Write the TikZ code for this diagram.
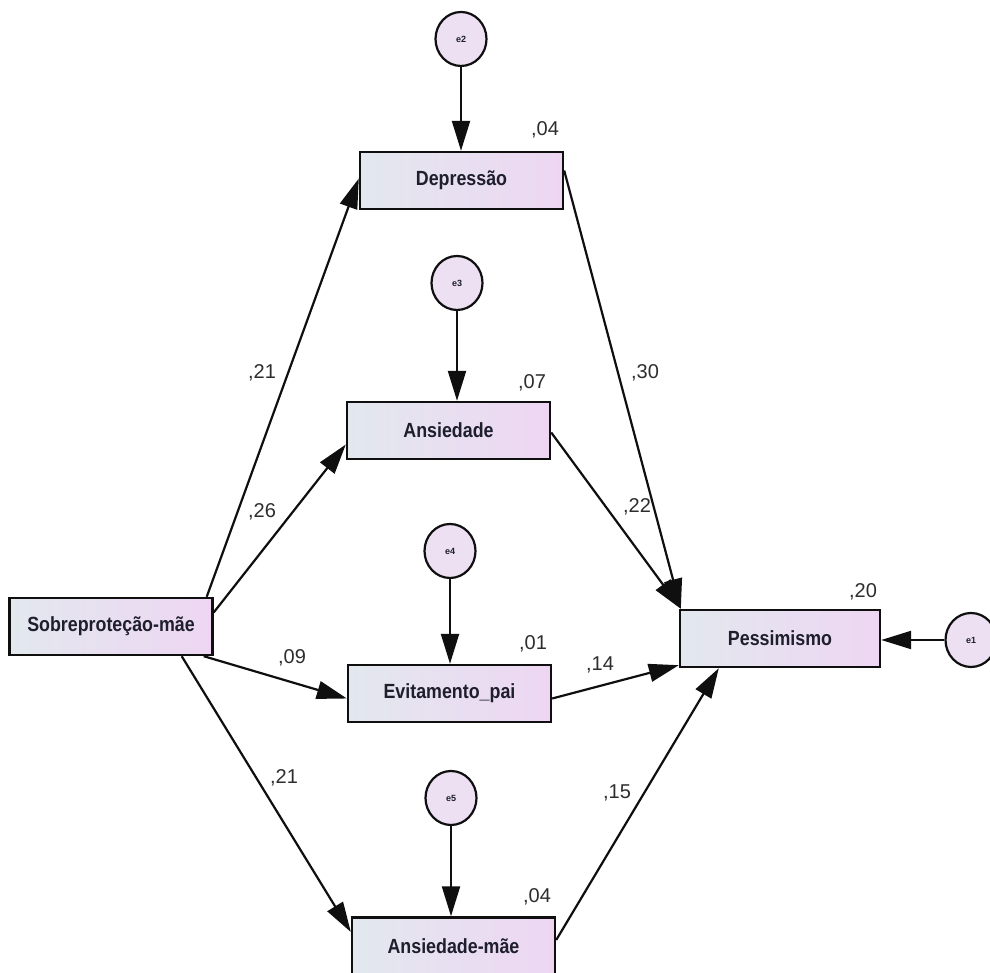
\documentclass[tikz,border=0pt]{standalone}
\usepackage{fontspec}
\setmainfont{Liberation Sans}
\newfontfamily\boxfont[FakeStretch=0.87]{Liberation Sans}
\usetikzlibrary{arrows.meta,shapes.geometric}
\definecolor{boxL}{RGB}{226,232,238}
\definecolor{boxR}{RGB}{238,214,243}
\definecolor{circF}{RGB}{236,224,242}
\definecolor{lineC}{RGB}{15,15,15}
\definecolor{txtC}{RGB}{30,30,45}
\definecolor{numC}{RGB}{45,45,45}
\tikzset{
  varbox/.style={draw=lineC, line width=2.4pt, minimum width=203pt, minimum height=57pt,
    inner sep=0pt, left color=boxL, right color=boxR, shading angle=90,
    font=\boxfont\fontsize{20.5}{21}\selectfont\bfseries, text=txtC},
  errc/.style={draw=lineC, line width=2.2pt, ellipse, minimum width=51pt, minimum height=54pt,
    inner sep=0pt, fill=circF, font=\fontsize{9}{10}\selectfont\bfseries, text=txtC},
  path/.style={draw=lineC, line width=2.2pt, -{Triangle[length=30pt,width=18pt]}},
  coef/.style={font=\fontsize{20}{21}\selectfont, text=numC, inner sep=0pt}
}
\begin{document}
\begin{tikzpicture}[x=1pt,y=1pt]
\useasboundingbox (0,0) rectangle (990,973);
\clip (0,0) rectangle (990,973);
\fill[white] (0,0) rectangle (990,973);
% boxes
\node[varbox] (dep) at (461.5,792.5) {Depressão};
\node[varbox] (ans) at (448.5,542.5) {Ansiedade};
\node[varbox] (evi) at (449.5,279.5) {Evitamento\_pai};
\node[varbox] (ansm) at (453.5,27) {Ansiedade-mãe};
\node[varbox] (sob) at (111,346.5) {Sobreproteção-mãe};
\node[varbox, minimum width=200pt] (pes) at (780,334.5) {Pessimismo};
% error terms
\node[errc] (e2) at (461,934) {e2};
\node[errc] (e3) at (457,690) {e3};
\node[errc] (e4) at (450,422) {e4};
\node[errc] (e5) at (451,175) {e5};
\node[errc] (e1) at (971,333) {e1};
% error arrows
\draw[path] (e2.south) -- (e2.south |- dep.north);
\draw[path] (e3.south) -- (e3.south |- ans.north);
\draw[path] (e4.south) -- (e4.south |- evi.north);
\draw[path] (e5.south) -- (e5.south |- ansm.north);
\draw[path] (e1.west) -- (e1.west -| pes.east);
% structural paths
\draw[path] ([xshift=-7pt]sob.north east) -- ([yshift=2pt]dep.west);
\draw[path] ([yshift=14pt]sob.east) -- ([yshift=-14pt]ans.west);
\draw[path] ([xshift=-10pt]sob.south east) -- ([yshift=-5pt]evi.west);
\draw[path] ([xshift=-32pt]sob.south east) -- ([yshift=14pt]ansm.west);
\draw[path] ([yshift=10pt]dep.east) -- ([xshift=2pt]pes.north west);
\draw[path] ([yshift=-2pt]ans.east) -- ([xshift=2pt]pes.north west);
\draw[path] ([yshift=-5pt]evi.east) -- ([yshift=3pt]pes.south west);
\draw[path] ([yshift=6pt]ansm.east) -- ([xshift=40pt]pes.south west);
% coefficients
\node[coef] (c1) at (262,600) {,21};
\node[coef] (c2) at (262,461) {,26};
\node[coef] (c3) at (292,315) {,09};
\node[coef] (c4) at (284,195) {,21};
\node[coef] (c5) at (645,600) {,30};
\node[coef] (c6) at (637,466) {,22};
\node[coef] (c7) at (600,308) {,14};
\node[coef] (c8) at (617,180) {,15};
% squared multiple correlations
\node[coef] (r1) at (545,843) {,04};
\node[coef] (r2) at (532,590) {,07};
\node[coef] (r3) at (533,329) {,01};
\node[coef] (r4) at (537,76) {,04};
\node[coef] (r5) at (863,381) {,20};
\end{tikzpicture}
\end{document}
